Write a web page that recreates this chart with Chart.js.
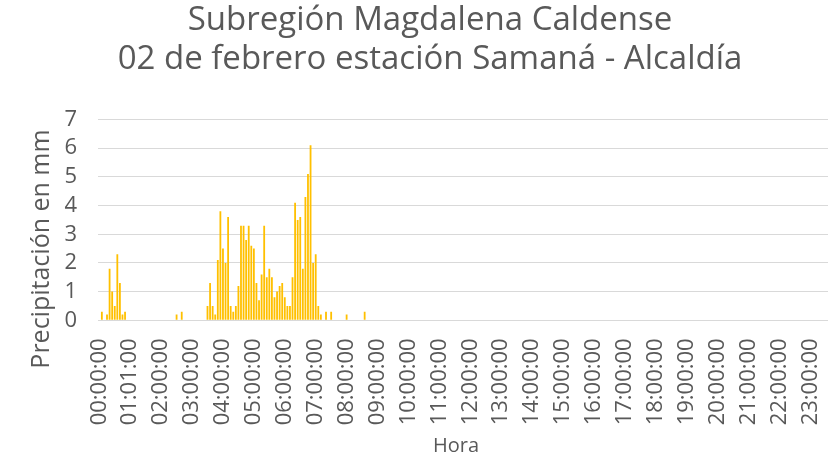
<!DOCTYPE html>
<html>
<head>
<meta charset="utf-8">
<title>Subregión Magdalena Caldense - Samaná</title>
<script src="https://cdn.jsdelivr.net/npm/chart.js@4.4.1/dist/chart.umd.min.js"></script>
<style>
    html, body { margin: 0; padding: 0; background: #ffffff; overflow: hidden; }
    #wrap { width: 840px; height: 461px; position: relative; }
</style>
</head>
<body>
<div id="wrap"><canvas id="rainChart"></canvas></div>
<script>
// precipitation every 5 minutes, one row per hour (12 readings)
const rainMm = [
    0, 0.3, 0, 0.2, 1.8, 1.0, 0.5, 2.3, 1.3, 0.2, 0.3, 0,      // 00h
    0, 0, 0, 0, 0, 0, 0, 0, 0, 0, 0, 0,                        // 01h
    0, 0, 0, 0, 0, 0, 0.2, 0, 0.3, 0, 0, 0,                    // 02h
    0, 0, 0, 0, 0, 0, 0.5, 1.3, 0.5, 0.2, 2.1, 3.8,            // 03h
    2.5, 2.0, 3.6, 0.5, 0.3, 0.5, 1.2, 3.3, 3.3, 2.8, 3.3, 2.6, // 04h
    2.5, 1.3, 0.7, 1.6, 3.3, 1.5, 1.8, 1.5, 0.8, 1.0, 1.2, 1.3, // 05h
    0.8, 0.5, 0.5, 1.5, 4.1, 3.5, 3.6, 1.8, 4.3, 5.1, 6.1, 2.0, // 06h
    2.3, 0.5, 0.2, 0, 0.3, 0, 0.3, 0, 0, 0, 0, 0,              // 07h
    0.2, 0, 0, 0, 0, 0, 0, 0.3, 0, 0, 0, 0,                    // 08h
    0, 0, 0, 0, 0, 0, 0, 0, 0, 0, 0, 0,                        // 09h
    0, 0, 0, 0, 0, 0, 0, 0, 0, 0, 0, 0,                        // 10h
    0, 0, 0, 0, 0, 0, 0, 0, 0, 0, 0, 0,                        // 11h
    0, 0, 0, 0, 0, 0, 0, 0, 0, 0, 0, 0,                        // 12h
    0, 0, 0, 0, 0, 0, 0, 0, 0, 0, 0, 0,                        // 13h
    0, 0, 0, 0, 0, 0, 0, 0, 0, 0, 0, 0,                        // 14h
    0, 0, 0, 0, 0, 0, 0, 0, 0, 0, 0, 0,                        // 15h
    0, 0, 0, 0, 0, 0, 0, 0, 0, 0, 0, 0,                        // 16h
    0, 0, 0, 0, 0, 0, 0, 0, 0, 0, 0, 0,                        // 17h
    0, 0, 0, 0, 0, 0, 0, 0, 0, 0, 0, 0,                        // 18h
    0, 0, 0, 0, 0, 0, 0, 0, 0, 0, 0, 0,                        // 19h
    0, 0, 0, 0, 0, 0, 0, 0, 0, 0, 0, 0,                        // 20h
    0, 0, 0, 0, 0, 0, 0, 0, 0, 0, 0, 0,                        // 21h
    0, 0, 0, 0, 0, 0, 0, 0, 0, 0, 0, 0,                        // 22h
    0, 0, 0, 0, 0, 0, 0, 0, 0, 0, 0, 0                         // 23h
];

// tick labels shown on the axis, one per hour
const hourTicks = [
    '00:00:00', '01:01:00', '02:00:00', '03:00:00', '04:00:00', '05:00:00',
    '06:00:00', '07:00:00', '08:00:00', '09:00:00', '10:00:00', '11:00:00',
    '12:00:00', '13:00:00', '14:00:00', '15:00:00', '16:00:00', '17:00:00',
    '18:00:00', '19:00:00', '20:00:00', '21:00:00', '22:00:00', '23:00:00'
];

const titleLines = ['Subregión Magdalena Caldense', '02 de febrero estación Samaná - Alcaldía'];
const yAxisTitle = 'Precipitación en mm';
const xAxisTitle = 'Hora';

const STEPS_PER_HOUR = 12;
const textColor = '#595959';

// one category per 5-minute reading
const categories = [];
for (let h = 0; h < hourTicks.length; h++) {
    for (let m = 0; m < STEPS_PER_HOUR; m++) {
        const hh = String(h).padStart(2, '0');
        const mm = String(m * 5).padStart(2, '0');
        categories.push(hh + ':' + mm + ':00');
    }
}

// axis titles placed like the spreadsheet does it
const axisTitlesPlugin = {
    id: 'axisTitles',
    afterDraw: function(chart) {
        const ctx = chart.ctx;
        ctx.save();
        ctx.fillStyle = textColor;
        ctx.textAlign = 'center';
        ctx.textBaseline = 'middle';

        ctx.font = '25px "Open Sans"';
        ctx.translate(42, 249);
        ctx.rotate(-Math.PI / 2);
        ctx.fillText(yAxisTitle, 0, 0);
        ctx.restore();

        ctx.save();
        ctx.fillStyle = textColor;
        ctx.textAlign = 'center';
        ctx.textBaseline = 'middle';
        ctx.font = '20px "Open Sans"';
        ctx.fillText(xAxisTitle, 456, 446);
        ctx.restore();
    }
};

const ctx = document.getElementById('rainChart');

new Chart(ctx, {
    type: 'bar',
    data: {
        labels: categories,
        datasets: [{
            label: yAxisTitle,
            data: rainMm,
            backgroundColor: '#FFC000',
            borderWidth: 0,
            barPercentage: 0.7,
            categoryPercentage: 1.0
        }]
    },
    options: {
        responsive: true,
        maintainAspectRatio: false,
        animation: false,
        layout: {
            // the chart continues past the right edge of the picture
            padding: { left: 20, right: 0, top: 0, bottom: 0 }
        },
        plugins: {
            legend: { display: false },
            tooltip: { enabled: false },
            title: {
                display: true,
                text: titleLines,
                color: textColor,
                font: { family: 'Open Sans', size: 33, weight: 'normal', lineHeight: 1.19 },
                padding: { top: 1, bottom: 40 }
            }
        },
        scales: {
            x: {
                afterFit: function(scale) {
                    scale.height = 140.7;
                    scale.paddingRight = 0;
                },
                grid: { display: false },
                border: { display: false },
                ticks: {
                    autoSkip: false,
                    maxRotation: 90,
                    minRotation: 90,
                    padding: 10,
                    color: textColor,
                    font: { family: 'Open Sans', size: 22 },
                    callback: function(value, index) {
                        if (index % STEPS_PER_HOUR === 0) {
                            return hourTicks[index / STEPS_PER_HOUR];
                        }
                        return null;
                    }
                }
            },
            y: {
                min: 0,
                max: 7,
                afterFit: function(scale) { scale.width = 78; },
                border: { display: false },
                grid: { color: '#d9d9d9', lineWidth: 1, drawTicks: false },
                ticks: {
                    stepSize: 1,
                    autoSkip: false,
                    padding: 21,
                    color: textColor,
                    font: { family: 'Open Sans', size: 22 }
                }
            }
        }
    },
    plugins: [axisTitlesPlugin]
});
</script>
</body>
</html>
